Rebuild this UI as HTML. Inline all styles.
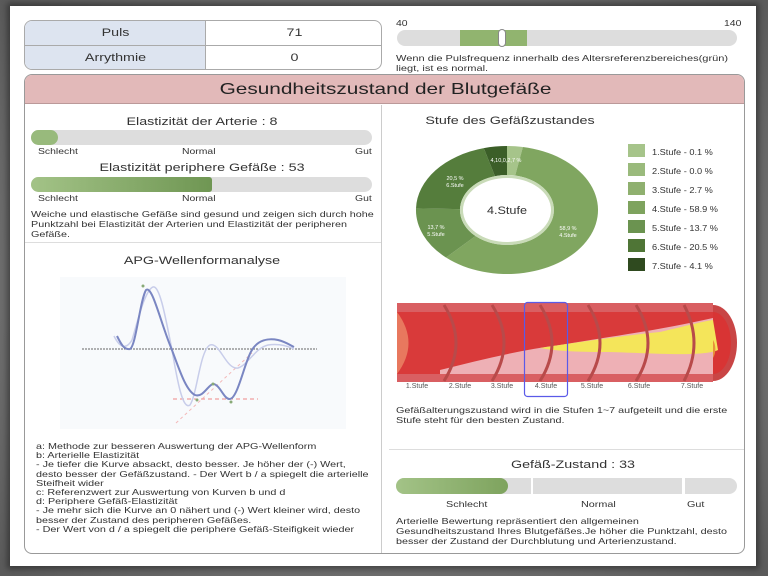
<!DOCTYPE html>
<html><head><meta charset="utf-8"><style>
*{margin:0;padding:0;box-sizing:border-box}
body{width:768px;height:576px;overflow:hidden;background:#6d6d6d;font-family:"Liberation Sans",sans-serif;color:#333;position:relative}
.a{position:absolute}
.t{position:absolute;white-space:nowrap;transform:scaleX(1.3);transform-origin:left top}
.c{position:absolute;white-space:nowrap;text-align:center;transform:scaleX(1.3);transform-origin:center top}
</style></head><body>
<div class="a" style="left:0;top:0;width:768px;height:576px;background:radial-gradient(ellipse at center,#9a9a9a 0%,#5a5a5a 100%)"></div>
<div class="a" style="left:10px;top:6px;width:746px;height:560px;background:#fff;box-shadow:0 0 6px 3px rgba(0,0,0,.4)"></div>

<!-- top table -->
<div class="a" style="left:24px;top:20px;width:358px;height:50px;border:1px solid #aaa;border-radius:8px;overflow:hidden;background:#fff">
 <div class="a" style="left:0;top:0;width:181px;height:50px;background:#dde4f0;border-right:1px solid #aaa"></div>
 <div class="a" style="left:0;top:24px;width:358px;height:1px;background:#aaa"></div>
 <div class="c" style="left:0;width:181px;top:6px;font-size:11px">Puls</div>
 <div class="c" style="left:181px;width:177px;top:6px;font-size:11px">71</div>
 <div class="c" style="left:0;width:181px;top:31px;font-size:11px">Arrythmie</div>
 <div class="c" style="left:181px;width:177px;top:31px;font-size:11px">0</div>
</div>
<div class="t" style="left:396px;top:19px;font-size:8px">40</div>
<div class="t" style="left:724px;top:19px;font-size:8px">140</div>
<div class="a" style="left:397px;top:30px;width:340px;height:16px;background:#ddd;border-radius:8px"></div>
<div class="a" style="left:460px;top:30px;width:67px;height:16px;background:#91b46f"></div>
<div class="a" style="left:498px;top:29px;width:8px;height:18px;background:#fff;border:1px solid #888;border-radius:4px"></div>
<div class="t" style="left:396px;top:53px;font-size:8.5px;line-height:10px">Wenn die Pulsfrequenz innerhalb des Altersreferenzbereiches(grün)<br>liegt, ist es normal.</div>

<!-- main panel -->
<div class="a" style="left:24px;top:74px;width:721px;height:480px;border:1px solid #999;border-radius:8px;overflow:hidden;background:#fff">
 <div class="a" style="left:0;top:0;width:721px;height:29px;background:#e2b9b9;border-bottom:1px solid #b99"></div>
 <div class="c" style="left:0;width:721px;top:6px;font-size:16px;color:#222">Gesundheitszustand der Blutgefäße</div>
 <div class="a" style="left:356px;top:30px;width:1px;height:450px;background:#ccc"></div>
 <div class="a" style="left:0;top:167px;width:356px;height:1px;background:#ddd"></div>
 <div class="a" style="left:364px;top:374px;width:357px;height:1px;background:#ddd"></div>
</div>

<!-- left section -->
<div class="c" style="left:24px;width:356px;top:116px;font-size:11px">Elastizität der Arterie : 8</div>
<div class="a" style="left:31px;top:130px;width:341px;height:15px;background:#ddd;border-radius:8px"></div>
<div class="a" style="left:31px;top:130px;width:27px;height:15px;background:#98ba7c;border-radius:8px"></div>
<div class="t" style="left:38px;top:147px;font-size:8px">Schlecht</div>
<div class="t" style="left:182px;top:147px;font-size:8px">Normal</div>
<div class="t" style="left:355px;top:147px;font-size:8px">Gut</div>
<div class="c" style="left:24px;width:356px;top:162px;font-size:11px">Elastizität periphere Gefäße : 53</div>
<div class="a" style="left:31px;top:177px;width:341px;height:15px;background:#ddd;border-radius:8px"></div>
<div class="a" style="left:31px;top:177px;width:181px;height:15px;background:linear-gradient(90deg,#a3c387,#6f9653);border-radius:8px 3px 3px 8px"></div>
<div class="t" style="left:38px;top:194px;font-size:8px">Schlecht</div>
<div class="t" style="left:182px;top:194px;font-size:8px">Normal</div>
<div class="t" style="left:355px;top:194px;font-size:8px">Gut</div>
<div class="t" style="left:31px;top:209px;font-size:8.3px;line-height:10px">Weiche und elastische Gefäße sind gesund und zeigen sich durch hohe<br>Punktzahl bei Elastizität der Arterien und Elastizität der peripheren<br>Gefäße.</div>
<div class="c" style="left:24px;width:356px;top:255px;font-size:11px">APG-Wellenformanalyse</div>

<svg class="a" style="left:60px;top:277px" width="286" height="152">
 <rect width="286" height="152" fill="#f8fafc"/>
</svg>
<svg class="a" style="left:0;top:0" width="768" height="576">
 <line x1="82" y1="349" x2="317" y2="349" stroke="#666" stroke-dasharray="2,1" stroke-width="1"/>
 <line x1="173" y1="399" x2="258" y2="399" stroke="#e88" stroke-dasharray="4,3" stroke-width="1"/>
 <line x1="176" y1="423" x2="252" y2="353" stroke="#f3b8b8" stroke-dasharray="3,3" stroke-width="1"/>
 <path d="M114,336 C120,348 126,350 132,340 C138,320 145,290 153,287 C160,285 166,320 172,350 C178,385 183,410 190,405 C197,395 200,350 210,345 C220,342 226,370 238,368 C248,365 255,348 268,345 C280,343 290,347 294,349" fill="none" stroke="#c8cdea" stroke-width="1.5"/>
 <path d="M117,336 C121,344 124,350 130,349 C136,346 140,300 146,290 C152,285 160,320 170,345 C178,365 185,390 195,395 C203,398 208,385 213,384 C220,384 224,400 230,399 C238,398 245,360 252,350 C258,340 268,338 278,340 C286,342 290,345 294,347" fill="none" stroke="#7a86c2" stroke-width="2"/>
 <circle cx="143" cy="286" r="1.5" fill="#8a7"/>
 <circle cx="197" cy="400" r="1.5" fill="#8a7"/>
 <circle cx="213" cy="384" r="1.5" fill="#8a7"/>
 <circle cx="231" cy="402" r="1.5" fill="#8a7"/>
</svg>
<div class="t" style="left:36px;top:442px;font-size:8.3px;line-height:9.2px">a: Methode zur besseren Auswertung der APG-Wellenform<br>b: Arterielle Elastizität<br>- Je tiefer die Kurve absackt, desto besser. Je höher der (-) Wert,<br>desto besser der Gefäßzustand. - Der Wert b / a spiegelt die arterielle<br>Steifheit wider<br>c: Referenzwert zur Auswertung von Kurven b und d<br>d: Periphere Gefäß-Elastizität<br>- Je mehr sich die Kurve an 0 nähert und (-) Wert kleiner wird, desto<br>besser der Zustand des peripheren Gefäßes.<br>- Der Wert von d / a spiegelt die periphere Gefäß-Steifigkeit wieder</div>

<!-- right section -->
<div class="c" style="left:380px;width:260px;top:115px;font-size:11px">Stufe des Gefäßzustandes</div>
<svg class="a" style="left:0;top:0" width="768" height="576">
 <path d="M507,146 A91,64 0 0 1 522.9,147 L515.2,175.5 A47,35 0 0 0 507,175 Z" fill="#a6c48a"/>
 <path d="M522.9,147 A91,64 0 1 1 446,257.5 L475.5,236 A47,35 0 1 0 515.2,175.5 Z" fill="#80a660"/>
 <path d="M446,257.5 A91,64 0 0 1 416,208.4 L460,209.1 A47,35 0 0 0 475.5,236 Z" fill="#6b9350"/>
 <path d="M416,208.4 A91,64 0 0 1 483.8,148.1 L495,176.2 A47,35 0 0 0 460,209.1 Z" fill="#557d3c"/>
 <path d="M483.8,148.1 A91,64 0 0 1 507,146 L507,175 A47,35 0 0 0 495,176.2 Z" fill="#3b5e28"/>
 <ellipse cx="507" cy="210" rx="47" ry="35" fill="#c9dbb8"/>
 <ellipse cx="507" cy="210" rx="44" ry="32" fill="#fff"/>
 <text x="507" y="214" font-size="11" text-anchor="middle" fill="#333" font-family="Liberation Sans" transform="translate(507 0) scale(1.15 1) translate(-507 0)">4.Stufe</text>
 <g font-size="5.5" fill="#fff" font-family="Liberation Sans" text-anchor="middle">
  <text x="568" y="230">58,9 %</text><text x="568" y="237">4.Stufe</text>
  <text x="436" y="229">13,7 %</text><text x="436" y="236">5.Stufe</text>
  <text x="455" y="180">20,5 %</text><text x="455" y="187">6.Stufe</text>
  <text x="506" y="162">4,10,0,2,7 %</text>
 </g>
 <g fill="#333" font-family="Liberation Sans">
  <rect x="628" y="144" width="17" height="13" fill="#a6c48a"/>
  <rect x="628" y="163" width="17" height="13" fill="#9aba7c"/>
  <rect x="628" y="182" width="17" height="13" fill="#8fb06f"/>
  <rect x="628" y="201" width="17" height="13" fill="#7ea35e"/>
  <rect x="628" y="220" width="17" height="13" fill="#6b9350"/>
  <rect x="628" y="239" width="17" height="13" fill="#4f7536"/>
  <rect x="628" y="258" width="17" height="13" fill="#2f4a1f"/>
 </g>
 <!-- vessel -->
 <rect x="397" y="308" width="316" height="70" fill="#d93a3a"/>
 <path d="M713,305 A24,38 0 0 1 713,381 Z" fill="#c94545"/>
 <path d="M713,312 A18,31 0 0 1 713,374 Z" fill="#d83434"/>
 <rect x="397" y="303" width="316" height="9" fill="#d95f62"/>
 <rect x="397" y="374" width="316" height="8" fill="#d95f62"/>
 <path d="M440,370 C480,360 520,350 560,345 C620,335 660,330 713,318 L713,374 L440,374 Z" fill="#eeb0b5"/>
 <path d="M540,348 C580,342 620,336 660,332 C690,325 700,322 713,320 L718,350 C700,358 640,352 600,352 C570,352 550,350 540,348 Z" fill="#f4e55a"/>
 <path d="M713,340 A10,14 0 0 1 713,358 Z" fill="#e8913a"/>
 <g fill="none" stroke="#b84a4a" stroke-width="3">
  <path d="M444,305 Q468,343 444,381"/><path d="M492,305 Q516,343 492,381"/>
  <path d="M540,305 Q564,343 540,381"/><path d="M588,305 Q612,343 588,381"/><path d="M636,305 Q660,343 636,381"/><path d="M684,305 Q704,343 684,381"/>
 </g>
 <path d="M397,312 Q420,343 397,374 Z" fill="#e8785e"/>
 <rect x="524.5" y="302.5" width="43" height="94" rx="3" fill="none" stroke="#5a5ae8" stroke-width="1.2"/>
 <g font-size="7" fill="#555" font-family="Liberation Sans" text-anchor="middle">
  <text x="417" y="388">1.Stufe</text><text x="460" y="388">2.Stufe</text><text x="502" y="388">3.Stufe</text>
  <text x="546" y="388">4.Stufe</text><text x="592" y="388">5.Stufe</text><text x="639" y="388">6.Stufe</text><text x="692" y="388">7.Stufe</text>
 </g>
</svg>
<div class="t" style="left:652px;top:143px;font-size:8px;line-height:19px;transform:scaleX(1.15)">1.Stufe - 0.1 %<br>2.Stufe - 0.0 %<br>3.Stufe - 2.7 %<br>4.Stufe - 58.9 %<br>5.Stufe - 13.7 %<br>6.Stufe - 20.5 %<br>7.Stufe - 4.1 %</div>
<div class="t" style="left:396px;top:405px;font-size:8.3px;line-height:10px">Gefäßalterungszustand wird in die Stufen 1~7 aufgeteilt und die erste<br>Stufe steht für den besten Zustand.</div>
<div class="c" style="left:388px;width:370px;top:459px;font-size:11px">Gefäß-Zustand : 33</div>
<div class="a" style="left:396px;top:478px;width:135px;height:16px;background:#ddd;border-radius:8px 0 0 8px"></div>
<div class="a" style="left:396px;top:478px;width:112px;height:16px;background:linear-gradient(90deg,#a3c387,#7ea35e);border-radius:8px"></div>
<div class="a" style="left:533px;top:478px;width:149px;height:16px;background:#ddd"></div>
<div class="a" style="left:685px;top:478px;width:52px;height:16px;background:#ddd;border-radius:0 8px 8px 0"></div>
<div class="t" style="left:446px;top:499px;font-size:8.3px">Schlecht</div>
<div class="t" style="left:581px;top:499px;font-size:8.3px">Normal</div>
<div class="t" style="left:687px;top:499px;font-size:8.3px">Gut</div>
<div class="t" style="left:396px;top:516px;font-size:8.3px;line-height:10px">Arterielle Bewertung repräsentiert den allgemeinen<br>Gesundheitszustand Ihres Blutgefäßes.Je höher die Punktzahl, desto<br>besser der Zustand der Durchblutung und Arterienzustand.</div>
</body></html>
